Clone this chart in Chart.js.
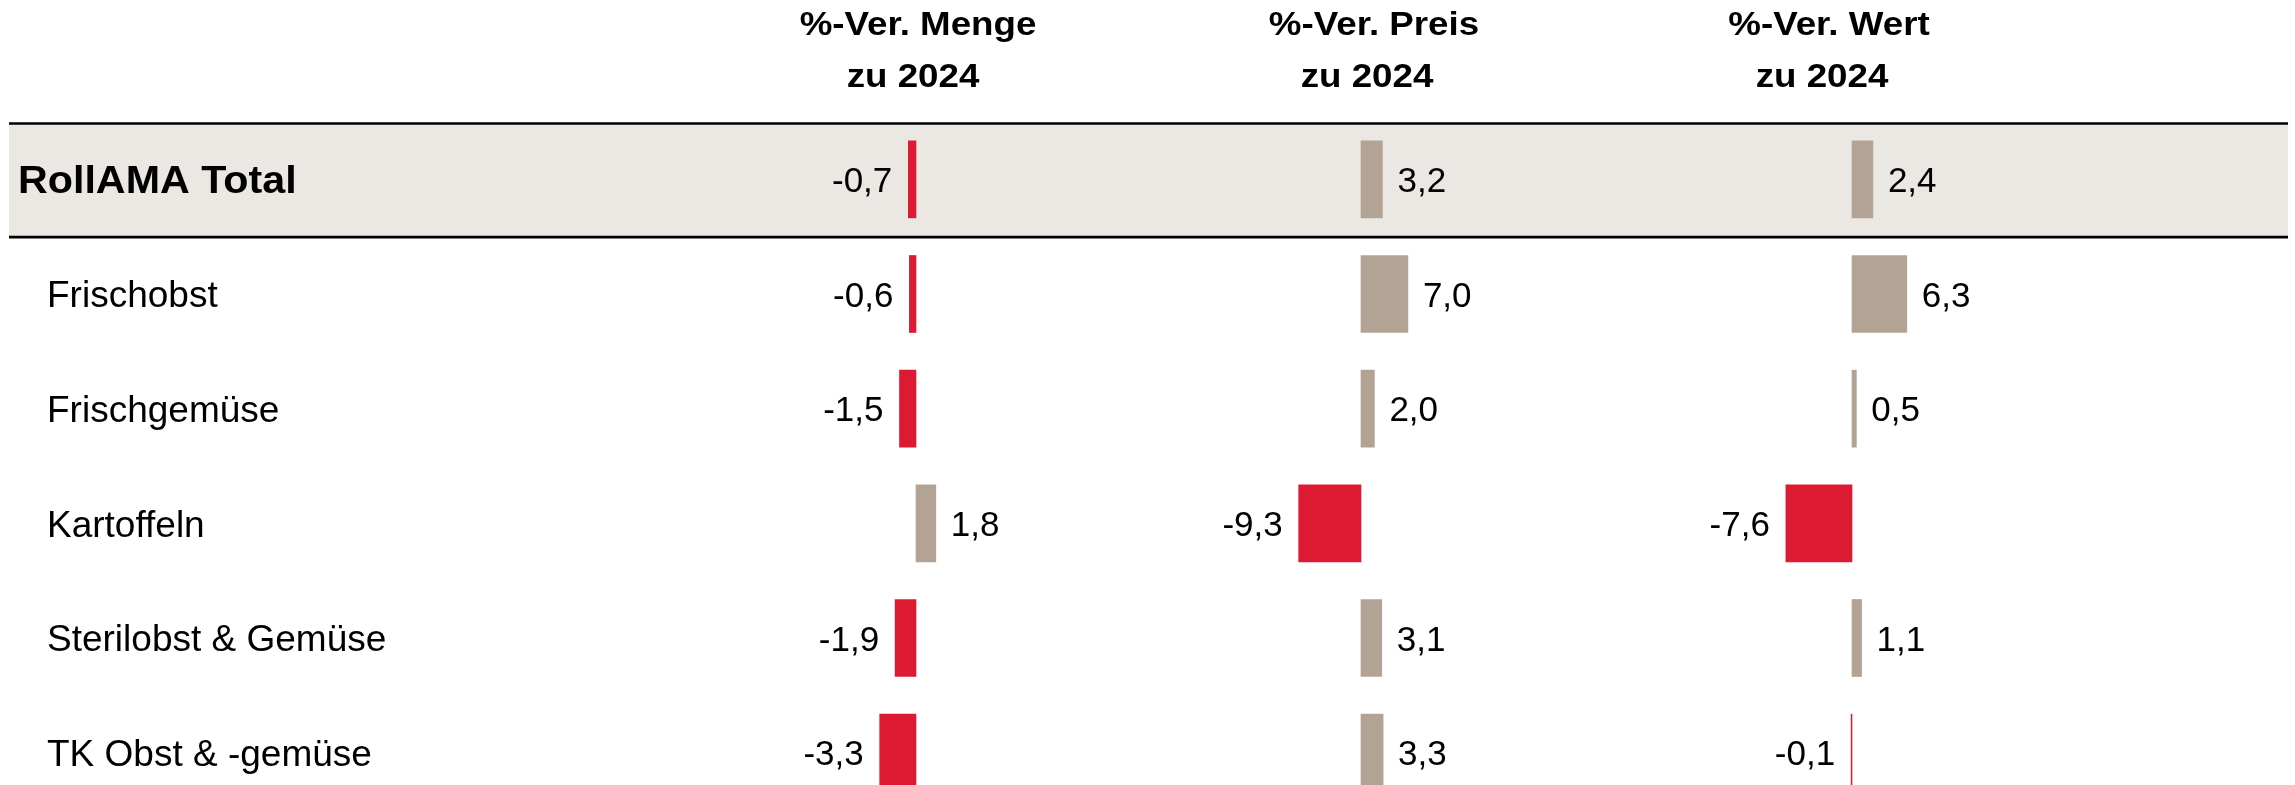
<!DOCTYPE html>
<html>
<head>
<meta charset="utf-8">
<script src="https://cdn.jsdelivr.net/npm/chart.js@4/dist/chart.umd.min.js"></script>
<style>
html,body{margin:0;padding:0;overflow:hidden;background:#ffffff;}
canvas{display:block;}
</style>
</head>
<body>
<canvas id="c" width="2295" height="810" style="width:2295px;height:810px"></canvas>
<script>
// ---- data ----
const categories = ['RollAMA Total', 'Frischobst', 'Frischgemüse', 'Kartoffeln', 'Sterilobst & Gemüse', 'TK Obst & -gemüse'];
const mengeValues = [-0.7, -0.6, -1.5, 1.8, -1.9, -3.3];
const preisValues = [3.2, 7.0, 2.0, -9.3, 3.1, 3.3];
const wertValues  = [2.4, 6.3, 0.5, -7.6, 1.1, -0.1];
const headerTitles = ['%-Ver. Menge', '%-Ver. Preis', '%-Ver. Wert'];
const headerSub = ['zu 2024', 'zu 2024', 'zu 2024'];

// ---- styling / layout ----
const RED = '#DC1A32';
const TAN = '#B3A395';
const BAND = '#EBE8E3';
const FONT = '"Liberation Sans", Arial, Helvetica, sans-serif';
const W = 2295;
const colLayout = [
  {id: 'xM', zero: 916,  ppu: 11.0, headerX: 918, subX: 913},
  {id: 'xP', zero: 1361, ppu: 6.7,  headerX: 1374, subX: 1367},
  {id: 'xW', zero: 1852, ppu: 8.7,  headerX: 1829, subX: 1822}
];
const seriesValues = [mengeValues, preisValues, wertValues];

function fmt(v) { return v.toFixed(1).replace('.', ','); }

const scales = {
  y: {type: 'category', display: false, offset: true, grid: {display: false}}
};
colLayout.forEach(c => {
  scales[c.id] = {
    type: 'linear', display: false, position: 'bottom',
    min: -c.zero / c.ppu, max: (W - c.zero) / c.ppu,
    grid: {display: false}
  };
});

const datasets = seriesValues.map((vals, i) => ({
  label: headerTitles[i],
  data: vals,
  xAxisID: colLayout[i].id,
  yAxisID: 'y',
  grouped: false,
  barThickness: 77,
  borderWidth: 0,
  backgroundColor: ctx => (ctx.raw < 0 ? RED : TAN)
}));

function stretchText(ctx, text, x, y, sx, align) {
  ctx.save();
  ctx.translate(x, y);
  ctx.scale(sx, 1);
  ctx.textAlign = align;
  ctx.fillText(text, 0, 0);
  ctx.restore();
}

const tablePlugin = {
  id: 'tableDeco',
  beforeDatasetsDraw(chart) {
    const ctx = chart.ctx;
    const y = chart.scales.y;
    const band = (chart.chartArea.bottom - chart.chartArea.top) / categories.length;
    const c0 = y.getPixelForValue(0);
    const top = c0 - band / 2 + 1.5;
    const bottom = c0 + band / 2 + 0.5;
    ctx.save();
    ctx.fillStyle = BAND;
    ctx.fillRect(9, top, 2288 - 9, bottom - top);
    ctx.strokeStyle = '#000';
    ctx.lineWidth = 2.6;
    ctx.beginPath();
    ctx.moveTo(9, top); ctx.lineTo(2288, top);
    ctx.moveTo(9, bottom); ctx.lineTo(2288, bottom);
    ctx.stroke();
    ctx.restore();
  },
  afterDatasetsDraw(chart) {
    const ctx = chart.ctx;
    ctx.save();
    ctx.fillStyle = '#000';
    ctx.textBaseline = 'alphabetic';
    const labSize = 35;
    ctx.font = labSize + 'px ' + FONT;
    chart.data.datasets.forEach((ds, di) => {
      const meta = chart.getDatasetMeta(di);
      meta.data.forEach((el, i) => {
        const v = ds.data[i];
        const by = el.y + labSize * 0.358;
        if (v >= 0) {
          ctx.textAlign = 'left';
          ctx.fillText(fmt(v), el.x + 15, by);
        } else {
          ctx.textAlign = 'right';
          ctx.fillText(fmt(v), Math.min(el.x, el.base) - 16, by);
        }
      });
    });
    // row labels
    const yS = chart.scales.y;
    categories.forEach((lab, i) => {
      const py = yS.getPixelForValue(i);
      if (i === 0) {
        ctx.font = 'bold 38px ' + FONT;
        stretchText(ctx, lab, 18, py + 38 * 0.358, 1.085, 'left');
      } else {
        ctx.font = '37px ' + FONT;
        ctx.textAlign = 'left';
        ctx.fillText(lab, 47, py + 37 * 0.358);
      }
    });
    // headers
    ctx.font = 'bold 34px ' + FONT;
    colLayout.forEach((c, i) => {
      stretchText(ctx, headerTitles[i], c.headerX, 35, 1.08, 'center');
      stretchText(ctx, headerSub[i], c.subX, 87, 1.08, 'center');
    });
    ctx.restore();
  }
};

new Chart(document.getElementById('c'), {
  type: 'bar',
  data: {labels: categories, datasets: datasets},
  options: {
    indexAxis: 'y',
    responsive: false,
    animation: false,
    devicePixelRatio: 1,
    layout: {padding: {top: 122, bottom: 0, left: 0, right: 0}},
    scales: scales,
    plugins: {legend: {display: false}, tooltip: {enabled: false}, title: {display: false}}
  },
  plugins: [tablePlugin]
});
</script>
</body>
</html>
